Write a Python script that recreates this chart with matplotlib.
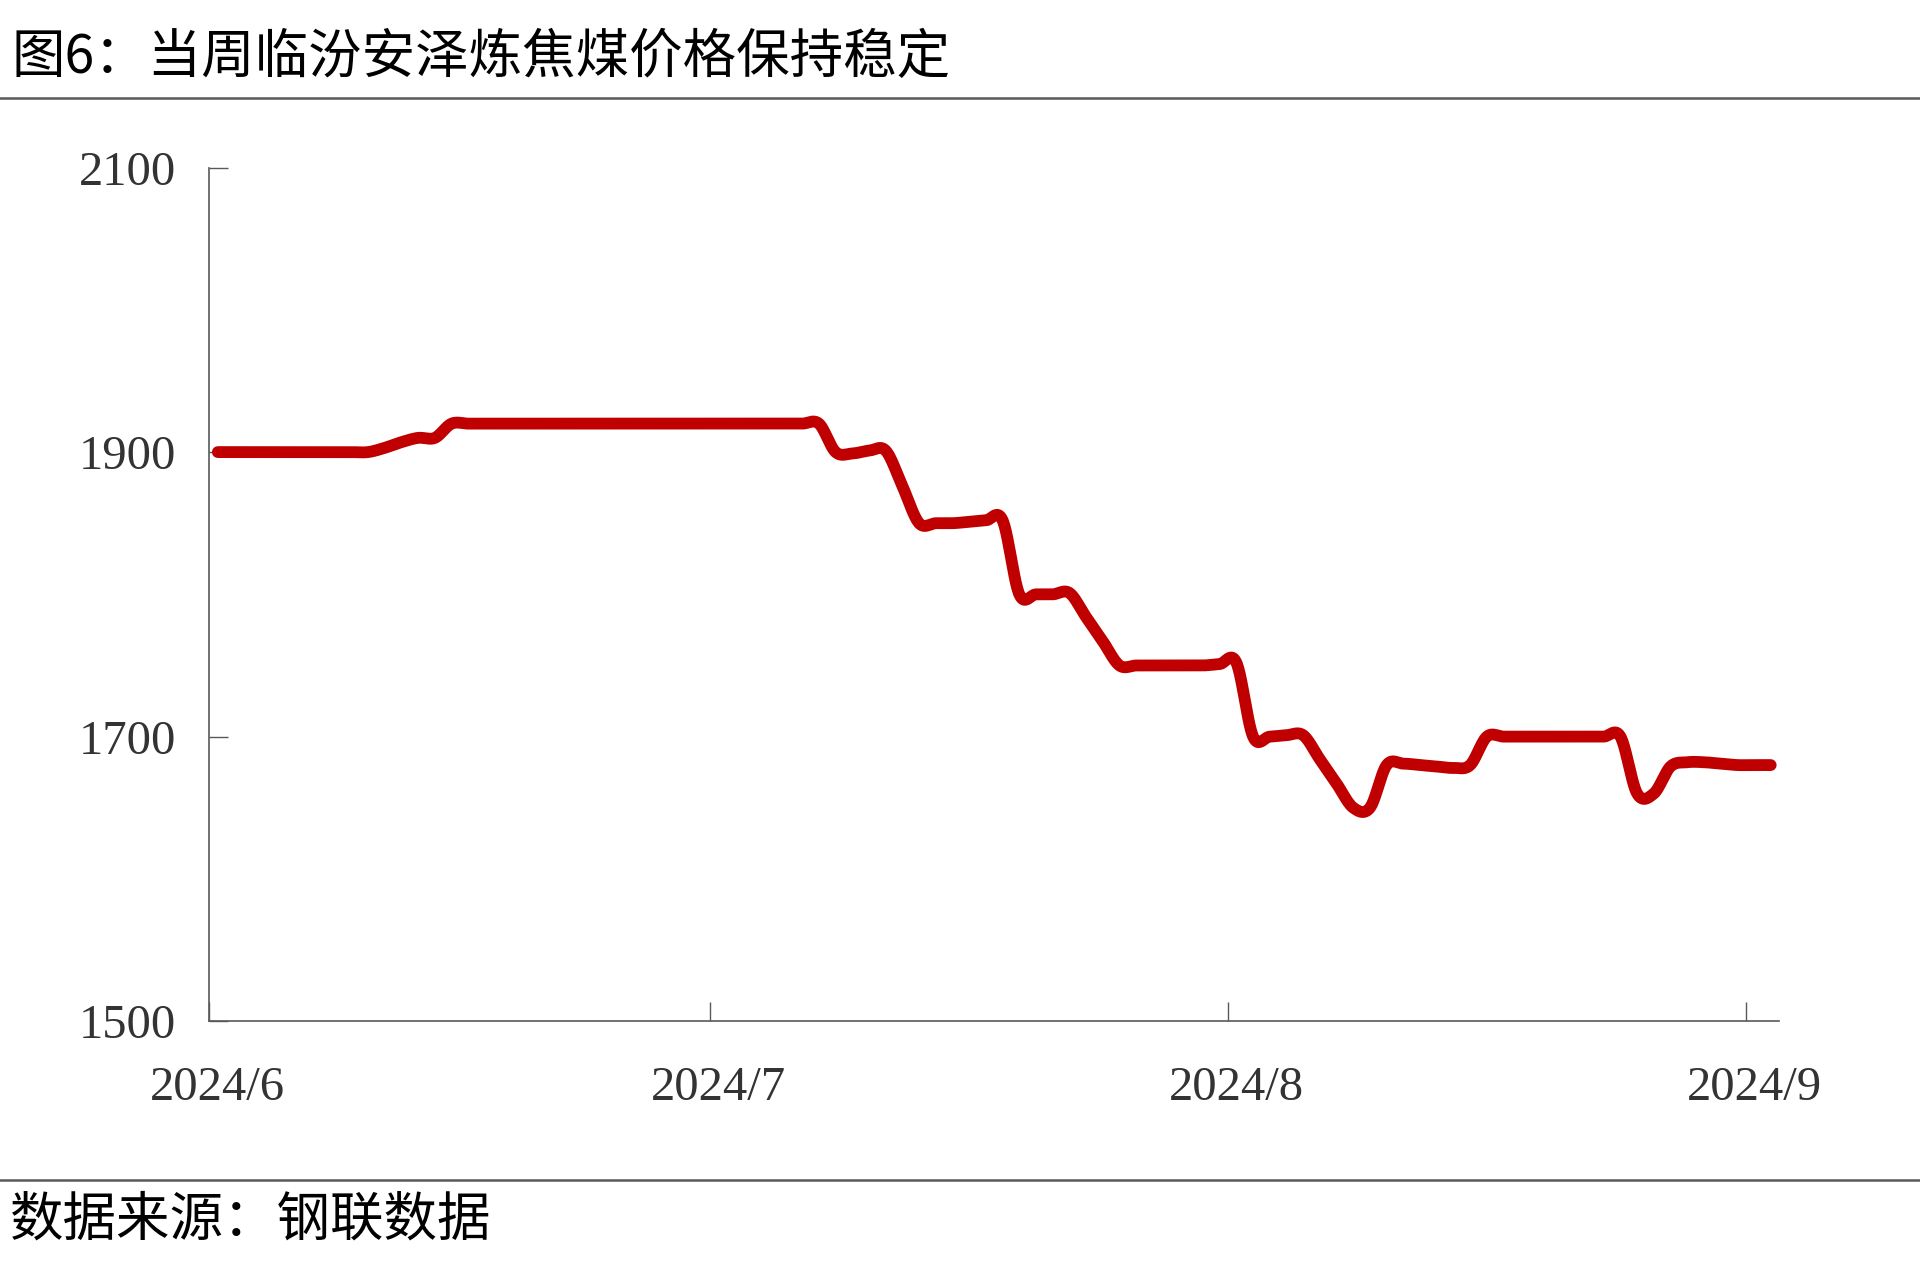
import numpy as np
import pandas as pd
import matplotlib
matplotlib.use("Agg")
import matplotlib.pyplot as plt
import matplotlib.dates as mdates
from matplotlib.lines import Line2D

TITULO = "图6：当周临汾安泽炼焦煤价格保持稳定"
FUENTE = "数据来源：钢联数据"

# precio diario (yuan/t), desde 2024-06-01
INICIO = "2024-06-01"
PRECIO = [1900, 1900, 1900, 1900, 1900, 1900, 1900, 1900, 1900, 1900,
          1903, 1907, 1910, 1910,
          1920, 1920, 1920, 1920, 1920, 1920, 1920, 1920, 1920, 1920,
          1920, 1920, 1920, 1920, 1920, 1920, 1920, 1920, 1920, 1920,
          1920, 1920, 1920,
          1900, 1899, 1901, 1901, 1876,
          1850, 1850, 1850, 1851, 1852, 1852,
          1800, 1800, 1800, 1801, 1784, 1767,
          1750, 1750, 1750, 1750, 1750, 1750, 1751, 1752,
          1700, 1700, 1701, 1701, 1684, 1667, 1650, 1650,
          1680, 1681, 1680, 1679, 1678, 1680,
          1700, 1700, 1700, 1700, 1700, 1700, 1700, 1700, 1700,
          1660, 1660, 1679, 1682, 1682, 1681, 1680, 1680, 1680]
Y_TICKS = [1500, 1700, 1900, 2100]
MESES = ["2024-06-01", "2024-07-01", "2024-08-01", "2024-09-01"]
ETIQ_MESES = ["2024/6", "2024/7", "2024/8", "2024/9"]
X_FIN = "2024-09-03"

ROJO = "#C00000"
GRIS = "#595959"


def suavizar(x, y, n=24):
    # curva suave tipo Excel (Catmull-Rom -> Bezier)
    x = np.asarray(x, float)
    y = np.asarray(y, float)
    xp = np.concatenate([[x[0]], x, [x[-1]]])
    yp = np.concatenate([[y[0]], y, [y[-1]]])
    t = np.linspace(0, 1, n, endpoint=False)
    xs, ys = [], []
    for i in range(1, len(xp) - 2):
        p0, p1, p2, p3 = [np.array([xp[k], yp[k]]) for k in (i - 1, i, i + 1, i + 2)]
        c1 = p1 + (p2 - p0) / 6
        c2 = p2 - (p3 - p1) / 6
        for tt in t:
            b = ((1 - tt) ** 3) * p1 + 3 * ((1 - tt) ** 2) * tt * c1 \
                + 3 * (1 - tt) * tt ** 2 * c2 + tt ** 3 * p2
            xs.append(b[0])
            ys.append(b[1])
    xs.append(x[-1])
    ys.append(y[-1])
    return np.array(xs), np.array(ys)


fechas = pd.date_range(INICIO, periods=len(PRECIO), freq="D")
x = mdates.date2num(fechas.to_pydatetime()) + 0.5
xs, ys = suavizar(x, PRECIO)

fig = plt.figure(figsize=(19.2, 12.79), dpi=100)
ax = fig.add_axes([0.1091, 0.2016, 0.9266 - 0.1091, 0.869 - 0.2016])

ax.plot(xs, ys, color=ROJO, lw=8.5, solid_capstyle="round", solid_joinstyle="round")

x_meses = mdates.date2num(pd.to_datetime(MESES).to_pydatetime())
ax.set_xlim(x_meses[0], mdates.date2num(pd.Timestamp(X_FIN).to_pydatetime()))
ax.set_ylim(Y_TICKS[0], Y_TICKS[-1])

ax.set_xticks(x_meses)
ax.set_xticklabels([])
ax.set_xticks(x_meses + 0.5, minor=True)
ax.set_xticklabels(ETIQ_MESES, minor=True)
ax.set_yticks(Y_TICKS)
ax.set_yticklabels([str(v) for v in Y_TICKS])

for lab in ax.get_xticklabels(minor=True) + ax.get_yticklabels():
    lab.set_fontfamily("Liberation Serif")
    lab.set_fontsize(35)
    lab.set_color("#333333")

ax.tick_params(axis="both", which="major", direction="in", length=13.7, width=1, color=GRIS)
ax.tick_params(axis="x", which="minor", length=0, pad=32)
ax.tick_params(axis="y", which="major", pad=24)

for s in ("top", "right"):
    ax.spines[s].set_visible(False)
for s in ("left", "bottom"):
    ax.spines[s].set_color(GRIS)
    ax.spines[s].set_linewidth(1.2)

# reglas horizontales y textos
for yy in (1 - 98 / 1279, 1 - 1180 / 1279):
    fig.add_artist(Line2D([0, 1], [yy, yy], transform=fig.transFigure, color=GRIS, lw=1.8))

fig.text(0.006, 1 - 57 / 1279, TITULO, family=["Noto Sans CJK SC", "DejaVu Sans"],
         fontsize=38.5, va="center", ha="left", color="black")
fig.text(0.005, 1 - 1220 / 1279, FUENTE, family=["Noto Sans CJK SC", "DejaVu Sans"],
         fontsize=38.5, va="center", ha="left", color="black")

fig.savefig("out.png", dpi=100, facecolor="white")
